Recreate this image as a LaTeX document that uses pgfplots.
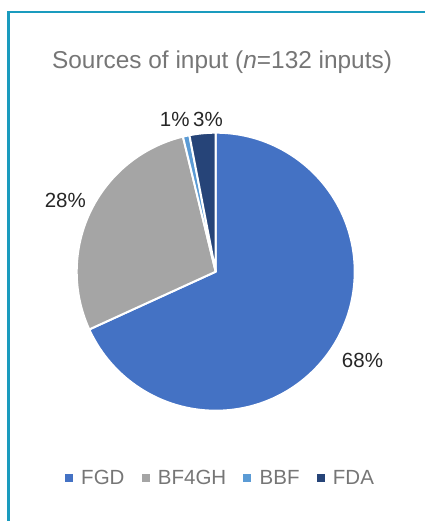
\documentclass[border=0pt]{standalone}
\usepackage{pgfplots}
\pgfplotsset{compat=1.18}
\usepackage{fontspec}
\setmainfont{Liberation Sans}

\definecolor{cFGD}{HTML}{4472C4}
\definecolor{cBF4GH}{HTML}{A5A5A5}
\definecolor{cBBF}{HTML}{5B9BD5}
\definecolor{cFDA}{HTML}{264478}
\definecolor{frame}{HTML}{1A9BBE}
\definecolor{titlecol}{HTML}{767676}
\definecolor{labcol}{HTML}{262626}

\def\total{132}
\pgfdeclareplotmark{blank}{}

% one wedge per data row: n = count, st = cumulative count before it,
% la/lr = where the percentage label sits (angle, radius in pt)
\newcommand\drawslice[1]{%
  \pgfmathsetmacro\aS{90-\st/\total*360}%
  \pgfmathsetmacro\aE{90-(\st+\cnt)/\total*360}%
  \fill[#1, draw=white, line width=2pt, line join=round]
    (0pt,0pt) -- (\aS:139pt) arc[start angle=\aS, end angle=\aE, radius=139pt] -- cycle;
  \pgfmathtruncatemacro\pct{round(\cnt/\total*100)}%
  \node[text=labcol, inner sep=0pt, font=\fontsize{20.5}{24}\selectfont]
    at (\la:\lr pt) {\pct\%};
}

\pgfplotsset{
  slice/.style={
    only marks, mark=blank, scatter,
    visualization depends on={\thisrow{n}\as\cnt},
    visualization depends on={\thisrow{st}\as\st},
    visualization depends on={\thisrow{la}\as\la},
    visualization depends on={\thisrow{lr}\as\lr},
    scatter/@pre marker code/.code={\drawslice{#1}},
    scatter/@post marker code/.code={},
    legend image code/.code={\fill[#1] (0pt,-3.5pt) rectangle (7pt,3.5pt);},
  },
}

\begin{document}
\begin{tikzpicture}
\path[use as bounding box] (0,0) rectangle (425pt,521pt);
\draw[frame, line width=2.3pt, line join=miter]
  (8.5pt,0pt) -- (8.5pt,508.8pt) -- (425pt,508.8pt);
\begin{axis}[
    at={(215.7pt,249.3pt)}, anchor=center,
    width=276pt, height=276pt, scale only axis,
    hide axis, clip=false,
    xmin=-1, xmax=1, ymin=-1, ymax=1,
    point meta min=-1, point meta max=1,
    title={Sources of input (\textit{n}=132 inputs)},
    title style={at={(rel axis cs:0.523,1.237)}, anchor=center,
      font=\fontsize{24.4}{28}\selectfont, text=titlecol},
    legend columns=-1,
    legend style={at={(rel axis cs:0.517,-0.2475)}, anchor=center,
      draw=none, fill=none, text=titlecol,
      font=\fontsize{20.5}{24}\selectfont,
      /tikz/every odd column/.append style={column sep=7pt},
      /tikz/every even column/.append style={column sep=15pt}},
  ]
  \addplot[slice=cFGD] table {
    x y n st la lr
    0 0 90 0 -31.2 171.6
  };
  \addlegendentry{FGD}
  \addplot[slice=cBF4GH] table {
    x y n st la lr
    0 0 37 90 154.7 166.3
  };
  \addlegendentry{BF4GH}
  \addplot[slice=cBBF] table {
    x y n st la lr
    0 0 1 127 105.1 157.4
  };
  \addlegendentry{BBF}
  \addplot[slice=cFDA] table {
    x y n st la lr
    0 0 4 128 92.9 152.2
  };
  \addlegendentry{FDA}
\end{axis}
\end{tikzpicture}
\end{document}
